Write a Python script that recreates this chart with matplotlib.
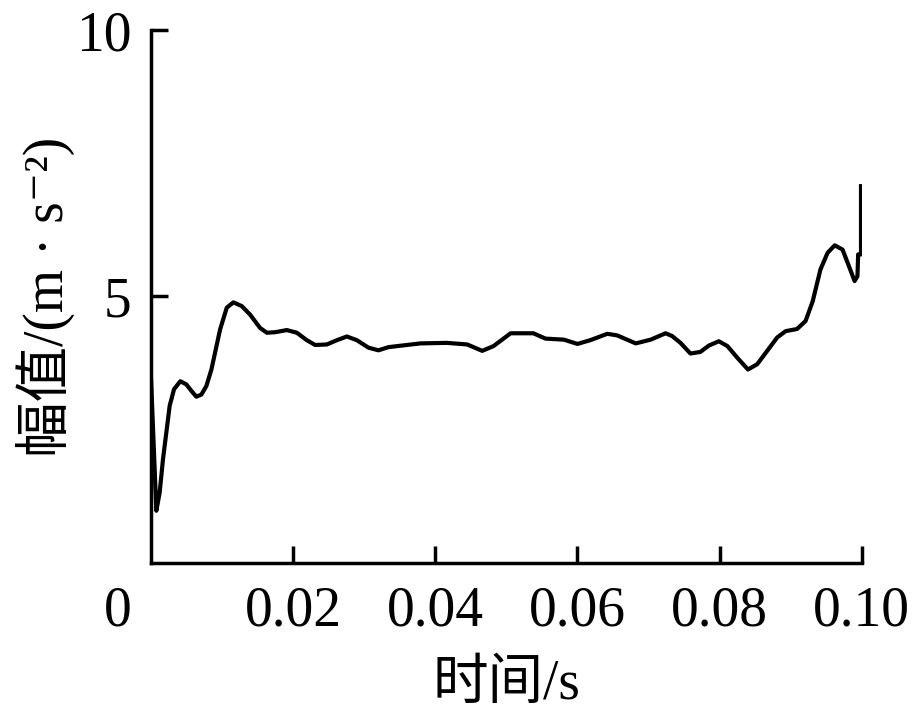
import numpy as np
import matplotlib
matplotlib.use("Agg")
import matplotlib.pyplot as plt

plt.rcParams['font.family'] = ['Liberation Serif', 'Noto Sans CJK SC', 'DejaVu Sans']

# values
t = [0.0, 0.00075, 0.00122, 0.00169, 0.00216, 0.00263, 0.00324, 0.00413,
     0.00498, 0.00568, 0.00638, 0.00709, 0.00779, 0.0085, 0.00972, 0.01066,
     0.01159, 0.01277, 0.01394, 0.01535, 0.0163, 0.01746, 0.01911, 0.02052,
     0.02193, 0.0231, 0.02475, 0.02615, 0.02756, 0.02897, 0.0306, 0.032,
     0.03342, 0.0379, 0.0416, 0.0445, 0.0466, 0.0482, 0.0506, 0.0538,
     0.0555, 0.0581, 0.0600, 0.0618, 0.0642, 0.0656, 0.0682, 0.0703,
     0.0724, 0.0733, 0.0745, 0.0759, 0.0773, 0.0785, 0.0799, 0.0811,
     0.0825, 0.0840, 0.0853, 0.0867, 0.0881, 0.0893, 0.0909, 0.0921,
     0.0931, 0.0942, 0.0952, 0.0962, 0.0973, 0.0982, 0.0990, 0.0994,
     0.0995, 0.0999, 0.0999]
amp = [3.48, 0.98, 1.32, 1.95, 2.45, 2.95, 3.26, 3.41,
       3.35, 3.23, 3.12, 3.16, 3.32, 3.63, 4.38, 4.79,
       4.89, 4.82, 4.66, 4.41, 4.32, 4.33, 4.37, 4.32,
       4.18, 4.09, 4.10, 4.18, 4.25, 4.18, 4.04, 3.99,
       4.05, 4.12, 4.13, 4.10, 3.98, 4.07, 4.31, 4.31,
       4.21, 4.19, 4.11, 4.18, 4.30, 4.27, 4.12, 4.19,
       4.31, 4.26, 4.13, 3.93, 3.96, 4.08, 4.16, 4.07,
       3.85, 3.63, 3.73, 3.98, 4.23, 4.35, 4.39, 4.54,
       4.91, 5.51, 5.82, 5.96, 5.88, 5.57, 5.29, 5.38,
       5.79, 5.79, 7.07]

xticks = [0.02, 0.04, 0.06, 0.08, 0.10]
xticklabels = ['0.02', '0.04', '0.06', '0.08', '0.10']
yticks = [5, 10]

fig = plt.figure(figsize=(9.14, 7.18), dpi=100)
ax = fig.add_axes([0.1652, 0.2159, 0.9428 - 0.1652, 0.9582 - 0.2159])

ax.plot(t, amp, color='black', lw=3.0, solid_joinstyle='round')

ax.set_xlim(0, 0.10)
ax.set_ylim(0, 10)
ax.spines['top'].set_visible(False)
ax.spines['right'].set_visible(False)
for s in ['left', 'bottom']:
    ax.spines[s].set_linewidth(2.5)

ax.set_xticks(xticks)
ax.set_xticklabels(xticklabels)
ax.set_yticks(yticks)
ax.tick_params(direction='in', length=12, width=2.5, labelsize=40)
ax.tick_params(axis='x', pad=16)
ax.tick_params(axis='y', pad=14)

# origin label sits left of the corner, on the x tick label row
ax.annotate('0', xy=(0, 0), xycoords='axes fraction', xytext=(-24, -16),
            textcoords='offset points', ha='center', va='top', fontsize=40)

ax.set_xlabel('时间/s', fontsize=40, labelpad=16)
ax.set_ylabel('幅值/(m · s⁻²)', fontsize=40, labelpad=1)

fig.savefig('out.png', dpi=100)
